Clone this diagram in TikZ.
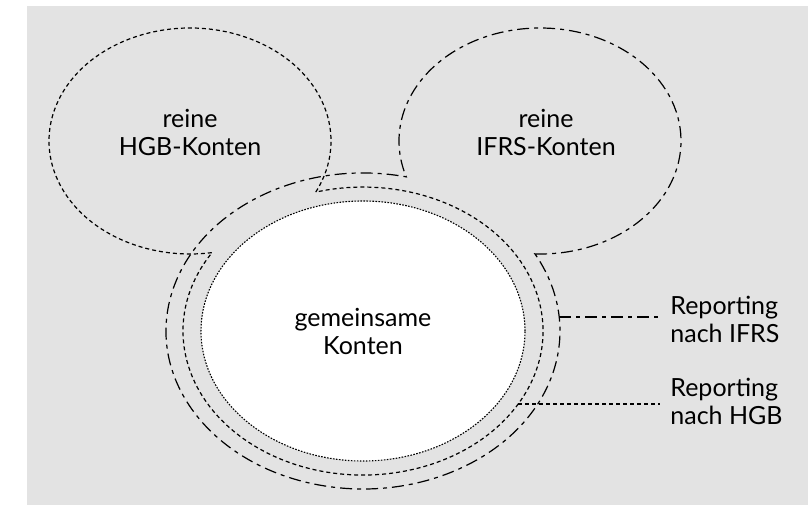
\documentclass[tikz,border=0pt]{standalone}
\usepackage{fontspec}
\setmainfont{Lato}
\definecolor{bggray}{HTML}{E3E3E3}
\tikzset{
  hgbline/.style={line width=0.6pt, dash pattern=on 2pt off 1.5pt},
  ifrsline/.style={line width=0.6pt, dash pattern=on 6pt off 2.5pt on 2pt off 2.5pt},
  commonline/.style={line width=0.55pt, dash pattern=on 0.8pt off 0.7pt, fill=white},
  txt/.style={align=center, font=\fontsize{12.5}{14}\selectfont},
  lbl/.style={txt, align=left, anchor=west, inner sep=5pt}
}
\begin{document}
\begin{tikzpicture}[x=0.5pt, y=0.5pt]
\useasboundingbox (0,0) rectangle (808,505);
\fill[bggray] (27,0) rectangle (808,499);
\coordinate (hgbc) at (190,364);
\coordinate (ifrsc) at (540,364);
\coordinate (ringc) at (363,174);
\draw[commonline] (ringc) ellipse [x radius=162, y radius=130];
\draw[hgbline] (hgbc) ++(-26.8:141 and 113)
  arc[start angle=-26.8, end angle=279, x radius=141, y radius=113]
  arc[start angle=147, end angle=465.2, x radius=180, y radius=144] -- cycle;
\draw[ifrsline] (ifrsc) ++(-92:141 and 113)
  arc[start angle=-92, end angle=198.5, x radius=141, y radius=113]
  arc[start angle=77.3, end angle=389.2, x radius=197, y radius=158] -- cycle;
\node[txt] (hgbtxt) at (190,373) {reine\\HGB-Konten};
\node[txt] (ifrstxt) at (546,373) {reine\\IFRS-Konten};
\node[txt] (commontxt) at (363,174) {gemeinsame\\Konten};
\node[lbl] (ifrslbl) at (660,186) {Reporting\\nach IFRS};
\node[lbl] (hgblbl) at (660,104) {Reporting\\nach HGB};
\path (ringc) ++(5.1:197 and 158) coordinate (ifrspt);
\path (ringc) ++(-30.5:180 and 144) coordinate (hgbpt);
\draw[ifrsline] (ifrspt) -- (ifrspt -| ifrslbl.west);
\draw[hgbline] (hgbpt) -- (hgbpt -| hgblbl.west);
\end{tikzpicture}
\end{document}
